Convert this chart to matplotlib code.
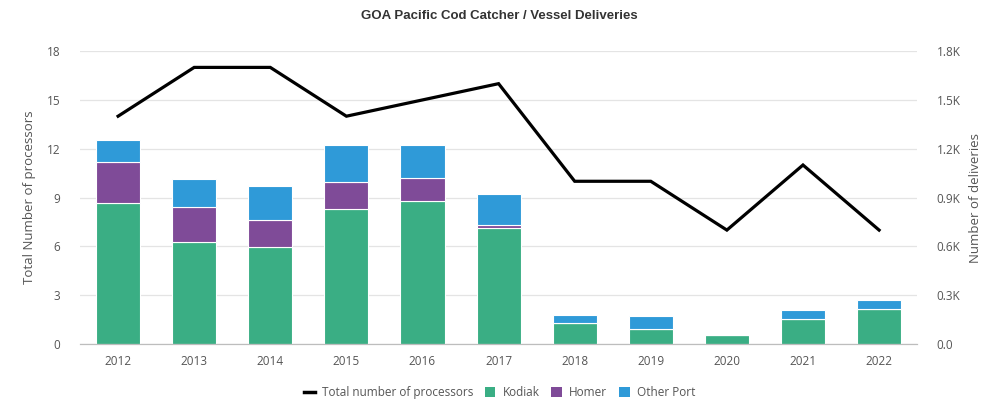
import matplotlib
matplotlib.use('Agg')
import matplotlib.pyplot as plt
from matplotlib.patches import Patch
from matplotlib.lines import Line2D
from matplotlib.ticker import FuncFormatter
import numpy as np

plt.rcParams.update({
    'font.family': ['Open Sans', 'DejaVu Sans'],
    'font.size': 8,
})

# ── Data ──
years = ['2012', '2013', '2014', '2015', '2016', '2017',
         '2018', '2019', '2020', '2021', '2022']
total_processors = [14, 17, 17, 14, 15, 16, 10, 10, 7, 11, 7]
kodiak = [866, 625, 598, 829, 878, 711, 127, 92, 55, 152, 213]
homer = [250, 217, 162, 164, 140, 20, 0, 0, 0, 0, 0]
other_port = [137, 173, 212, 228, 203, 190, 51, 80, 0, 57, 59]

c_kodiak = '#3aae84'
c_homer = '#7f4b98'
c_other = '#2f9ad8'
c_text = '#555555'

fig = plt.figure(figsize=(9.93, 4.09), dpi=100)
ax1 = fig.add_axes([0.0806, 0.159, 0.843, 0.716])
ax2 = ax1.twinx()

x = np.arange(len(years))
w = 0.58
k = np.array(kodiak)
h = np.array(homer)
o = np.array(other_port)
ax2.bar(x, k, w, color=c_kodiak, edgecolor='white', linewidth=0.8)
ax2.bar(x, h, w, bottom=k, color=c_homer, edgecolor='white', linewidth=0.8)
ax2.bar(x, o, w, bottom=k + h, color=c_other, edgecolor='white', linewidth=0.8)

ax1.plot(x, total_processors, color='black', linewidth=2.3, solid_joinstyle='miter')

# line on top of the bars; gridlines stay behind the bars on ax2
ax1.set_zorder(ax2.get_zorder() + 1)
ax1.patch.set_visible(False)

ax1.set_xlim(-0.5, 10.5)
ax1.set_ylim(0, 18)
ax1.set_yticks(range(0, 19, 3))
ax2.set_ylim(0, 1800)
ax2.set_yticks(range(0, 1801, 300))
ax2.yaxis.set_major_formatter(FuncFormatter(lambda v, p: f'{v / 1000:.1f}K' if v else '0.0'))

ax1.set_xticks(x)
ax1.set_xticklabels(years)

ax2.grid(axis='y', color='#e4e4e4', linewidth=0.9)
ax2.set_axisbelow(True)
for ax in (ax1, ax2):
    for s in ('top', 'left', 'right'):
        ax.spines[s].set_visible(False)
    ax.spines['bottom'].set_color('#bdbdbd')
    ax.tick_params(length=0, colors=c_text, labelsize=8.5)
ax1.tick_params(axis='y', pad=14)
ax1.tick_params(axis='x', pad=8)
ax2.tick_params(axis='y', pad=14)

ax1.set_ylabel('Total Number of processors', color=c_text, fontsize=9.5, labelpad=8)
ax2.set_ylabel('Number of deliveries', color=c_text, fontsize=9.5, labelpad=6)

fig.suptitle('GOA Pacific Cod Catcher / Vessel Deliveries', x=0.503, y=0.975,
             fontsize=9.5, fontweight='bold', color='#333333',
             family=['Liberation Sans', 'DejaVu Sans'])

handles = [
    Line2D([0], [0], color='black', linewidth=2.5),
    Patch(facecolor=c_kodiak),
    Patch(facecolor=c_homer),
    Patch(facecolor=c_other),
]
labels = ['Total number of processors', 'Kodiak', 'Homer', 'Other Port']
fig.legend(handles, labels, loc='center', bbox_to_anchor=(0.503, 0.04), ncol=4,
           frameon=False, fontsize=8.5, handlelength=0.9, handleheight=0.9,
           handletextpad=0.6, columnspacing=1.0, labelcolor=c_text)

fig.savefig('out.png', dpi=100)
